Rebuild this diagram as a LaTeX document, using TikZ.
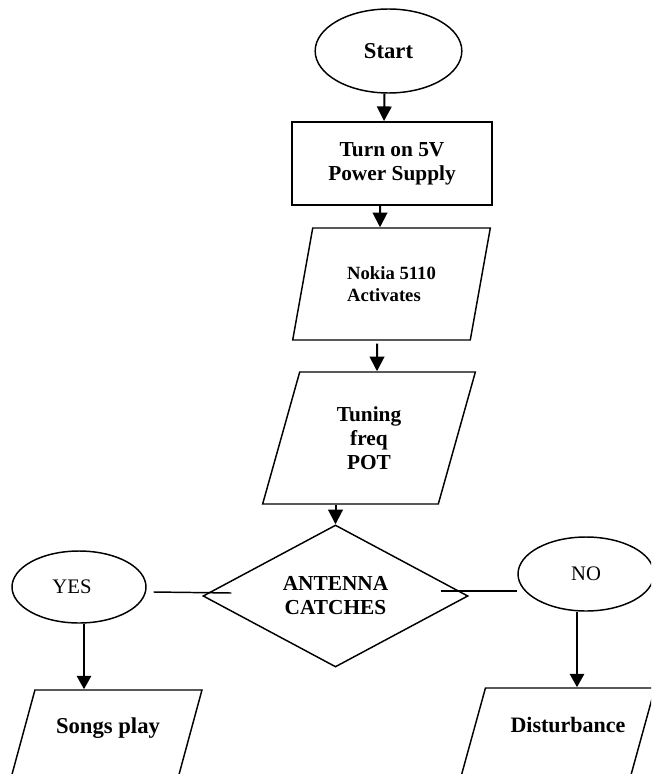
\documentclass[tikz,border=0pt]{standalone}
\usepackage{fontspec}
\setmainfont{Liberation Serif}
\usetikzlibrary{shapes.geometric,arrows.meta,calc}

\tikzset{
  every node/.style={inner sep=0pt},
  outline/.style={draw, line width=1.1pt},
  oval/.style={outline, ellipse},
  box/.style={outline, rectangle},
  para/.style={outline, trapezium, trapezium stretches=true},
  lean/.style={trapezium left angle=74.7, trapezium right angle=105.3},
  decide/.style={outline, diamond, aspect=1.87},
  head/.style={font=\fontsize{16}{18}\selectfont\bfseries, align=center},
  plain/.style={font=\fontsize{15.5}{18}\selectfont},
  arr/.style={line width=1.5pt, -{Triangle[width=11pt,length=11pt]}},
  heavyarr/.style={line width=2pt, -{Triangle[width=10.5pt,length=10pt]}},
  conn/.style={line width=1.1pt},
}

\begin{document}
\begin{tikzpicture}[x=0.75pt, y=-0.75pt]
\useasboundingbox (0,0) rectangle (651,774);
\clip (0,0) rectangle (651,774);

% main column
\node[oval, minimum width=110pt, minimum height=63pt, head, font=\fontsize{17}{18}\selectfont\bfseries] (start) at (388.5,51) {Start};
\node[box, line width=1.4pt, minimum width=150pt, minimum height=62.25pt, head] (power) at (392,163.5) {Turn on 5V\\Power Supply};
\node[para, trapezium left angle=72.2, trapezium right angle=107.8,
      minimum width=149.25pt, minimum height=84pt,
      font=\fontsize{14}{16.5}\selectfont\bfseries, align=left] (nokia) at (391.5,284) {Nokia 5110\\Activates};
\node[para, lean, minimum width=160.5pt, minimum height=99pt, head] (tuning) at (369,438) {Tuning\\freq\\POT};
\node[decide, minimum width=198.75pt, minimum height=106.5pt, head] (decision) at (335.5,596) {ANTENNA\\CATCHES};

% branches
\node[oval, minimum width=100.5pt, minimum height=54pt] (yes) at (79,587) {};
\node[plain] (yes-text) at (72,587) {YES};
\node[oval, minimum width=102pt, minimum height=55.5pt, plain] (no) at (586,574) {NO};

% outputs (outline only; their labels sit near the top)
\node[para, lean, inner sep=2pt, minimum width=152.25pt, minimum height=99pt] (songs) at (100.5,756) {};
\node[para, lean, inner sep=2pt, minimum width=154.5pt, minimum height=99pt] (dist) at (552,754) {};
\node[font=\fontsize{17}{18}\selectfont\bfseries] (songs-text) at (108,728) {Songs play};
\node[font=\fontsize{16.5}{18}\selectfont\bfseries] (dist-text) at (568,725) {Disturbance};

% flow arrows
\draw[arr] ($(start.south)+(-4,0)$) -- ($(power.north)+(-8,0)$);
\draw[arr] ($(power.south)+(-12,0)$) -- ($(nokia.north)+(-11.5,0)$);
\draw[arr] ($(nokia.south)+(-14.5,3)$) -- ($(tuning.north)+(8,0)$);
\draw[arr] (tuning.south -| decision.north) -- (decision.north);
\draw[heavyarr] ($(yes.south)+(5,0)$) coordinate (ya) -- (ya |- songs.north);
\draw[heavyarr] ($(no.south)+(-9,0)$) coordinate (na) -- (na |- dist.north);

% decision links
\draw[conn] ($(yes.east)+(7,5)$) -- ($(decision.west)+(29,-3)$);
\draw[conn] ($(decision.east)+(-28,-5)$) -- ($(no.west)+(0,17)$);
\end{tikzpicture}
\end{document}
